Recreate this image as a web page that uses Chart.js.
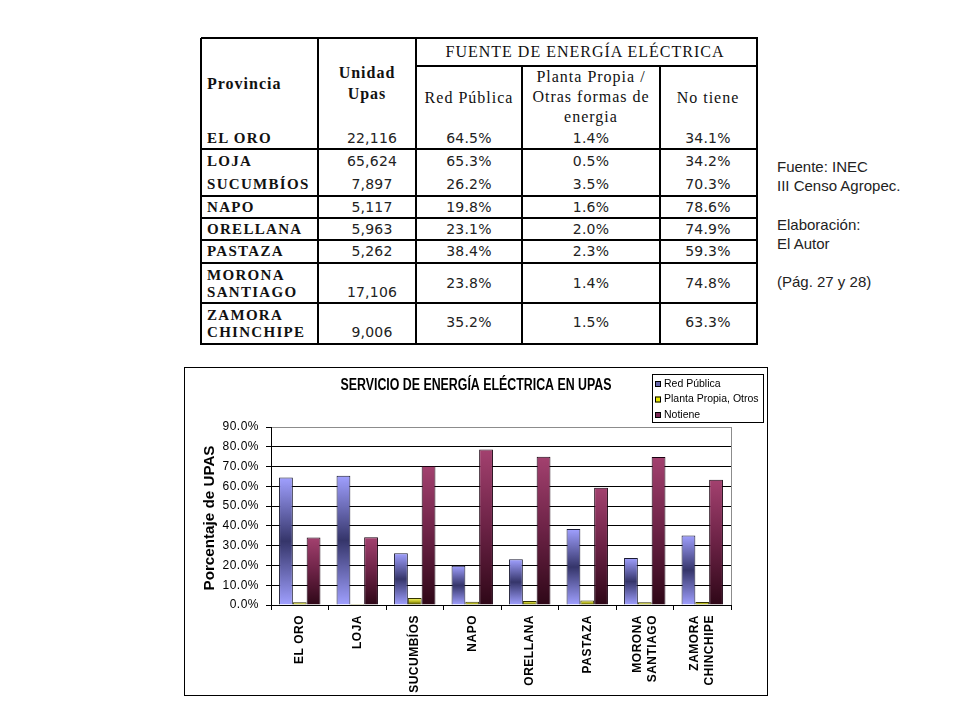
<!DOCTYPE html>
<html>
<head>
<meta charset="utf-8">
<script src="https://cdn.jsdelivr.net/npm/chart.js@4.4.0/dist/chart.umd.min.js"></script>
<style>
html,body{margin:0;padding:0;background:#fff;}
body{width:960px;height:720px;position:relative;overflow:hidden;}
.ln{position:absolute;background:#000;}
.t{position:absolute;white-space:nowrap;line-height:1;color:#111;}
.serif{font-family:"Liberation Serif","Times New Roman",serif;font-size:16px;letter-spacing:1px;}
.hb{font-weight:bold;}
.name{font-family:"Liberation Serif","Times New Roman",serif;font-size:15px;font-weight:bold;letter-spacing:1.3px;}
.num{font-family:"DejaVu Sans","Liberation Sans",sans-serif;font-size:14px;color:#222;letter-spacing:0.2px;}
.note{position:absolute;font-family:"Liberation Sans",Arial,sans-serif;font-size:15px;color:#222;line-height:19.2px;white-space:nowrap;}
#box{position:absolute;left:184px;top:367px;width:582px;height:327px;border:1px solid #000;background:#fff;}
#c{position:absolute;left:0;top:0;}
</style>
</head>
<body>
<div id="tbl"></div>
<div class="note" style="left:777px;top:157px;">Fuente: INEC<br>III Censo Agropec.<br><br>Elaboración:<br>El Autor<br><br>(Pág. 27 y 28)</div>
<div id="box"><canvas id="c" width="582" height="327"></canvas></div>
<script>
// ---------- DATA ----------
const provincias = [['EL ORO'], ['LOJA'], ['SUCUMBÍOS'], ['NAPO'], ['ORELLANA'], ['PASTAZA'], ['MORONA', 'SANTIAGO'], ['ZAMORA', 'CHINCHIPE']];
const unidadUpas = ['22,116', '65,624', '7,897', '5,117', '5,963', '5,262', '17,106', '9,006'];
const redPublica = [64.5, 65.3, 26.2, 19.8, 23.1, 38.4, 23.8, 35.2];
const plantaPropia = [1.4, 0.5, 3.5, 1.6, 2.0, 2.3, 1.4, 1.5];
const noTiene = [34.1, 34.2, 70.3, 78.6, 74.9, 59.3, 74.8, 63.3];
const seriesNames = ['Red Pública', 'Planta Propia, Otros', 'Notiene'];
const yTickLabels = ['0.0%', '10.0%', '20.0%', '30.0%', '40.0%', '50.0%', '60.0%', '70.0%', '80.0%', '90.0%'];
const chartTitle = 'SERVICIO DE ENERGÍA ELÉCTRICA EN UPAS';
const yAxisTitle = 'Porcentaje de UPAS';

// ---------- TABLE (HTML) ----------
const tbl = document.getElementById('tbl');
function hl(x1, x2, y) { const d = document.createElement('div'); d.className = 'ln'; d.style.cssText = `left:${x1}px;top:${y - 1}px;width:${x2 - x1 + 1}px;height:1.6px;`; tbl.appendChild(d); }
function vl(x, y1, y2) { const d = document.createElement('div'); d.className = 'ln'; d.style.cssText = `left:${x - 1}px;top:${y1}px;width:1.6px;height:${y2 - y1 + 1}px;`; tbl.appendChild(d); }
function tx(s, x, y, cls, align) {
  const d = document.createElement('div'); d.className = 't ' + cls; d.textContent = s;
  d.style.left = x + 'px'; d.style.top = y + 'px';
  d.style.transform = align === 'c' ? 'translate(-50%,-50%)' : 'translate(0,-50%)';
  tbl.appendChild(d);
}
const L = 201, R = 757, T = 38, B = 344;
const cx = [318, 416, 522, 660];
hl(L, R, T); hl(L, R, B); vl(L, T, B); vl(R, T, B);
vl(cx[0], T, B); vl(cx[1], T, B); vl(cx[2], 66, B); vl(cx[3], 66, B);
hl(cx[1], R, 66);
[149, 196, 218, 240, 263, 303].forEach(y => hl(L, R, y));

tx('Provincia', 207, 84, 'serif hb', 'l');
tx('Unidad', 367, 73, 'serif hb', 'c');
tx('Upas', 367, 94, 'serif hb', 'c');
tx('FUENTE DE ENERGÍA ELÉCTRICA', 585, 52, 'serif', 'c');
tx('Red Pública', 469, 98, 'serif', 'c');
tx('Planta Propia /', 591, 77, 'serif', 'c');
tx('Otras formas de', 591, 97, 'serif', 'c');
tx('energia', 591, 117, 'serif', 'c');
tx('No tiene', 708, 98, 'serif', 'c');

const rowName = [[138], [161], [184], [207], [229], [251], [275, 292], [315, 332]];
const rowNum = [138, 161, 184, 207, 229, 251, 292, 332];
const rowPct = [138, 161, 184, 207, 229, 251, 283, 322];
provincias.forEach((p, i) => {
  p.forEach((s, j) => tx(s, 207, rowName[i][j], 'name', 'l'));
  tx(unidadUpas[i], 372, rowNum[i], 'num', 'c');
  tx(redPublica[i].toFixed(1) + '%', 469, rowPct[i], 'num', 'c');
  tx(plantaPropia[i].toFixed(1) + '%', 591, rowPct[i], 'num', 'c');
  tx(noTiene[i].toFixed(1) + '%', 708, rowPct[i], 'num', 'c');
});

// ---------- CHART ----------
function barGradient(stops) {
  return function (c) {
    const chart = c.chart;
    if (!chart.chartArea || c.type !== 'data' || !chart.scales.y) return stops[0];
    const y = chart.scales.y;
    const top = y.getPixelForValue(c.raw), bot = y.getPixelForValue(0);
    if (!isFinite(top) || bot - top < 0.5) return stops[0];
    const g = chart.ctx.createLinearGradient(0, top, 0, bot);
    stops.forEach((s, i) => g.addColorStop(i / (stops.length - 1), s));
    return g;
  };
}
const swatch = ['#6666aa', '#e8e800', '#7a2a55'];

function fitText(ctx, text, x, y, w, rot) {
  ctx.save();
  ctx.translate(x, y);
  if (rot) ctx.rotate(rot);
  const m = ctx.measureText(text).width;
  ctx.scale(w / m, 1);
  ctx.fillText(text, 0, 0);
  ctx.restore();
}

const decor = {
  id: 'decor',
  beforeDraw(chart) {
    // center multi-line rotated category labels on their tick
    const xs = chart.scales.x;
    const items = xs.getLabelItems();
    if (!xs._centeredML) {
      items.forEach(it => {
        const n = Array.isArray(it.label) ? it.label.length : 1;
        if (n > 1) it.options.translation = [it.options.translation[0] - (n - 1) * it.font.lineHeight / 2, it.options.translation[1]];
      });
      xs._centeredML = true;
    }
  },
  afterDatasetsDraw(chart) { chart.ctx.letterSpacing = '0.5px'; },
  afterDraw(chart) {
    const ctx = chart.ctx, a = chart.chartArea;
    ctx.save();
    ctx.letterSpacing = '0px';
    // plot border right (gray)
    ctx.strokeStyle = '#8c8c8c'; ctx.lineWidth = 1;
    ctx.beginPath(); ctx.moveTo(Math.round(a.right) + 0.5, a.top); ctx.lineTo(Math.round(a.right) + 0.5, a.bottom); ctx.stroke();
    // title
    ctx.fillStyle = '#000';
    ctx.font = 'bold 16px "Liberation Sans", Arial, sans-serif';
    ctx.textAlign = 'center'; ctx.textBaseline = 'middle';
    fitText(ctx, chartTitle, 291, 18, 271, 0);
    // y axis title
    ctx.font = 'bold 14px "Liberation Sans", Arial, sans-serif';
    fitText(ctx, yAxisTitle, 25, 150, 145, -Math.PI / 2);
    // legend
    const lx = 467, ly = 6, lw = 111, lh = 48;
    ctx.fillStyle = '#fff'; ctx.fillRect(lx, ly, lw, lh);
    ctx.strokeStyle = '#000'; ctx.lineWidth = 1;
    ctx.strokeRect(lx + 0.5, ly + 0.5, lw, lh);
    ctx.font = '10.5px "Liberation Sans", Arial, sans-serif';
    ctx.textAlign = 'left'; ctx.textBaseline = 'middle';
    chart.data.datasets.forEach((ds, i) => {
      const yy = 16 + i * 15.5;
      ctx.fillStyle = swatch[i];
      ctx.fillRect(lx + 3, yy - 3, 6, 6);
      ctx.strokeStyle = '#000'; ctx.strokeRect(lx + 3.5, yy - 2.5, 5, 5);
      ctx.fillStyle = '#000';
      ctx.fillText(ds.label, lx + 12, yy);
    });
    ctx.restore();
  }
};

new Chart(document.getElementById('c'), {
  type: 'bar',
  data: {
    labels: provincias,
    datasets: [
      { label: seriesNames[0], data: redPublica, backgroundColor: barGradient(['#a0a0ff', '#35356a', '#a0a0ff']), borderColor: '#1a1a33', borderWidth: 1 },
      { label: seriesNames[1], data: plantaPropia, backgroundColor: barGradient(['#ffff70', '#b8b820', '#3a3a00']), borderColor: '#333300', borderWidth: 1 },
      { label: seriesNames[2], data: noTiene, backgroundColor: barGradient(['#a3416f', '#6b2245', '#2e0717']), borderColor: '#1a0010', borderWidth: 1 }
    ]
  },
  options: {
    responsive: false, animation: false, devicePixelRatio: 1,
    layout: { padding: { top: 59, right: 36, left: 0, bottom: 0 } },
    datasets: { bar: { categoryPercentage: 0.72, barPercentage: 1 } },
    plugins: { legend: { display: false }, title: { display: false }, tooltip: { enabled: false } },
    scales: {
      x: {
        grid: { offset: true, drawOnChartArea: false, drawTicks: true, tickLength: 5, color: '#000' },
        border: { color: '#000', width: 1 },
        ticks: { z: 1, autoSkip: false, maxRotation: 90, minRotation: 90, padding: 5, color: '#000', font: { family: '"Liberation Sans", Arial, sans-serif', size: 12, weight: 'bold', lineHeight: 1.25 } },
        afterFit(s) { s.height = 90; }
      },
      y: {
        min: 0, max: 90,
        ticks: { z: 1, stepSize: 10, padding: 7, color: '#000', font: { family: '"Liberation Sans", Arial, sans-serif', size: 12 }, callback: (v, i) => yTickLabels[i] },
        grid: { color: c => (c.tick && c.tick.value === 90) ? '#8c8c8c' : '#000', tickColor: '#000', tickLength: 5, lineWidth: 1 },
        border: { color: '#000', width: 1 },
        title: { display: false, text: yAxisTitle },
        afterFit(s) { s.width = 86; }
      }
    }
  },
  plugins: [decor]
});
</script>
</body>
</html>
